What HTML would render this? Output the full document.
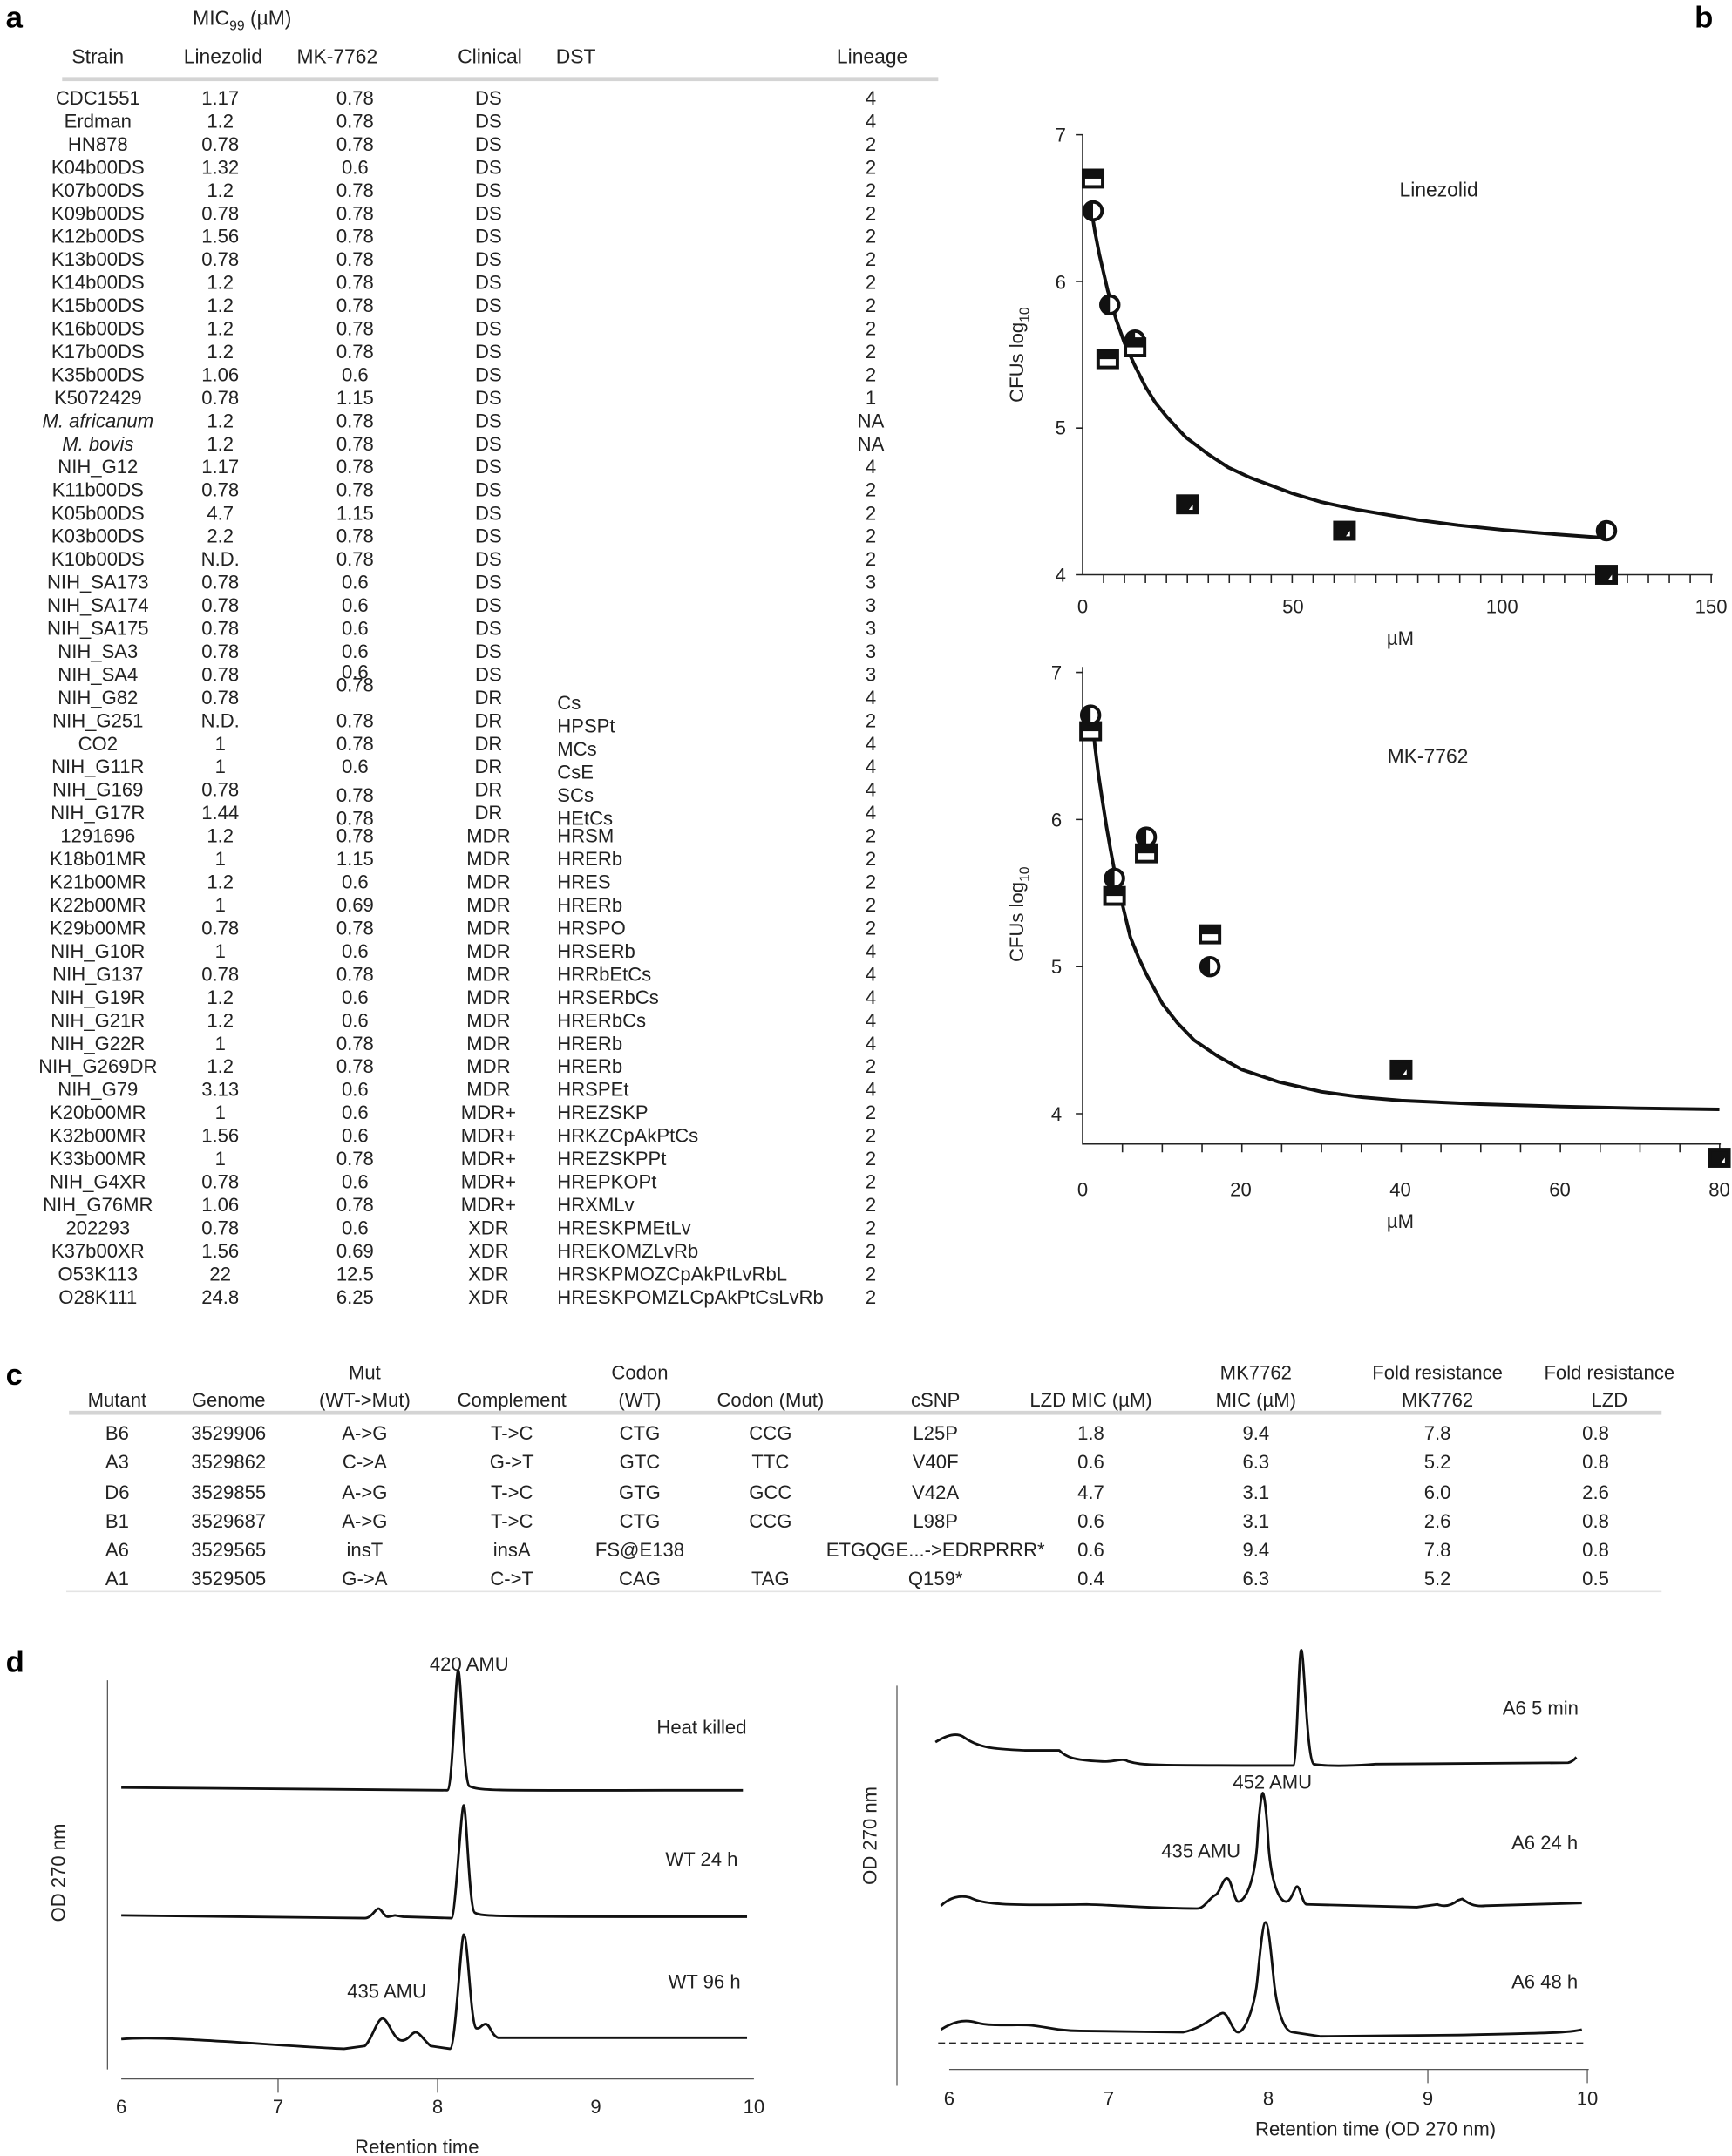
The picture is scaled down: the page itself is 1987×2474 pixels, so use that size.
<!DOCTYPE html>
<html><head><meta charset="utf-8"><style>
html,body{margin:0;padding:0;background:#fff}
svg{display:block}
text{font-family:"Liberation Sans",sans-serif;fill:#222}
.t{font-size:14px}
.h{font-size:14.5px}
.m{text-anchor:middle}
.b{font-weight:bold;font-size:22px;fill:#000}
</style></head><body>
<svg xmlns="http://www.w3.org/2000/svg" xmlns:xlink="http://www.w3.org/1999/xlink" width="1987" height="2474" viewBox="0 0 1259 1568">
<defs>
<g id="sq"><rect x="-7" y="-6" width="14" height="12" fill="#fff" stroke="#111" stroke-width="2.5"/><rect x="-7" y="-6" width="14" height="6" fill="#111"/></g>
<g id="ci"><circle r="6.5" fill="#fff" stroke="#111" stroke-width="2.5"/><path d="M0,-6.5 A6.5,6.5 0 0 0 0,6.5 Z" fill="#111"/></g>
<g id="fs"><rect x="-7" y="-6" width="14" height="12" fill="#111" stroke="#111" stroke-width="2.5"/><path d="M1,4 L4,4 L4,0 Z" fill="#fff"/></g>
</defs>

<!-- Panel a -->
<text x="4" y="20" class="b">a</text>
<text x="140" y="18" class="h">MIC<tspan font-size="10" dy="4">99</tspan><tspan dy="-4"> (µM)</tspan></text>
<text x="71" y="46" class="h m">Strain</text><text x="162" y="46" class="h m">Linezolid</text><text x="245" y="46" class="h m">MK-7762</text><text x="356" y="46" class="h m">Clinical</text><text x="404" y="46" class="h">DST</text><text x="634" y="46" class="h m">Lineage</text>
<rect x="45" y="56" width="637" height="3" fill="#d4d4d4"/>
<g class="t">
<g transform="translate(0,76)"><text x="71" class="t m">CDC1551</text><text x="160" class="t m">1.17</text><text x="258" class="t m">0.78</text><text x="355" class="t m">DS</text><text x="633" class="t m">4</text></g>
<g transform="translate(0,92.8)"><text x="71" class="t m">Erdman</text><text x="160" class="t m">1.2</text><text x="258" class="t m">0.78</text><text x="355" class="t m">DS</text><text x="633" class="t m">4</text></g>
<g transform="translate(0,109.5)"><text x="71" class="t m">HN878</text><text x="160" class="t m">0.78</text><text x="258" class="t m">0.78</text><text x="355" class="t m">DS</text><text x="633" class="t m">2</text></g>
<g transform="translate(0,126.3)"><text x="71" class="t m">K04b00DS</text><text x="160" class="t m">1.32</text><text x="258" class="t m">0.6</text><text x="355" class="t m">DS</text><text x="633" class="t m">2</text></g>
<g transform="translate(0,143.1)"><text x="71" class="t m">K07b00DS</text><text x="160" class="t m">1.2</text><text x="258" class="t m">0.78</text><text x="355" class="t m">DS</text><text x="633" class="t m">2</text></g>
<g transform="translate(0,159.9)"><text x="71" class="t m">K09b00DS</text><text x="160" class="t m">0.78</text><text x="258" class="t m">0.78</text><text x="355" class="t m">DS</text><text x="633" class="t m">2</text></g>
<g transform="translate(0,176.6)"><text x="71" class="t m">K12b00DS</text><text x="160" class="t m">1.56</text><text x="258" class="t m">0.78</text><text x="355" class="t m">DS</text><text x="633" class="t m">2</text></g>
<g transform="translate(0,193.4)"><text x="71" class="t m">K13b00DS</text><text x="160" class="t m">0.78</text><text x="258" class="t m">0.78</text><text x="355" class="t m">DS</text><text x="633" class="t m">2</text></g>
<g transform="translate(0,210.2)"><text x="71" class="t m">K14b00DS</text><text x="160" class="t m">1.2</text><text x="258" class="t m">0.78</text><text x="355" class="t m">DS</text><text x="633" class="t m">2</text></g>
<g transform="translate(0,226.9)"><text x="71" class="t m">K15b00DS</text><text x="160" class="t m">1.2</text><text x="258" class="t m">0.78</text><text x="355" class="t m">DS</text><text x="633" class="t m">2</text></g>
<g transform="translate(0,243.7)"><text x="71" class="t m">K16b00DS</text><text x="160" class="t m">1.2</text><text x="258" class="t m">0.78</text><text x="355" class="t m">DS</text><text x="633" class="t m">2</text></g>
<g transform="translate(0,260.5)"><text x="71" class="t m">K17b00DS</text><text x="160" class="t m">1.2</text><text x="258" class="t m">0.78</text><text x="355" class="t m">DS</text><text x="633" class="t m">2</text></g>
<g transform="translate(0,277.2)"><text x="71" class="t m">K35b00DS</text><text x="160" class="t m">1.06</text><text x="258" class="t m">0.6</text><text x="355" class="t m">DS</text><text x="633" class="t m">2</text></g>
<g transform="translate(0,294)"><text x="71" class="t m">K5072429</text><text x="160" class="t m">0.78</text><text x="258" class="t m">1.15</text><text x="355" class="t m">DS</text><text x="633" class="t m">1</text></g>
<g transform="translate(0,310.8)"><text x="71" class="t m" font-style="italic">M. africanum</text><text x="160" class="t m">1.2</text><text x="258" class="t m">0.78</text><text x="355" class="t m">DS</text><text x="633" class="t m">NA</text></g>
<g transform="translate(0,327.6)"><text x="71" class="t m" font-style="italic">M. bovis</text><text x="160" class="t m">1.2</text><text x="258" class="t m">0.78</text><text x="355" class="t m">DS</text><text x="633" class="t m">NA</text></g>
<g transform="translate(0,344.3)"><text x="71" class="t m">NIH_G12</text><text x="160" class="t m">1.17</text><text x="258" class="t m">0.78</text><text x="355" class="t m">DS</text><text x="633" class="t m">4</text></g>
<g transform="translate(0,361.1)"><text x="71" class="t m">K11b00DS</text><text x="160" class="t m">0.78</text><text x="258" class="t m">0.78</text><text x="355" class="t m">DS</text><text x="633" class="t m">2</text></g>
<g transform="translate(0,377.9)"><text x="71" class="t m">K05b00DS</text><text x="160" class="t m">4.7</text><text x="258" class="t m">1.15</text><text x="355" class="t m">DS</text><text x="633" class="t m">2</text></g>
<g transform="translate(0,394.6)"><text x="71" class="t m">K03b00DS</text><text x="160" class="t m">2.2</text><text x="258" class="t m">0.78</text><text x="355" class="t m">DS</text><text x="633" class="t m">2</text></g>
<g transform="translate(0,411.4)"><text x="71" class="t m">K10b00DS</text><text x="160" class="t m">N.D.</text><text x="258" class="t m">0.78</text><text x="355" class="t m">DS</text><text x="633" class="t m">2</text></g>
<g transform="translate(0,428.2)"><text x="71" class="t m">NIH_SA173</text><text x="160" class="t m">0.78</text><text x="258" class="t m">0.6</text><text x="355" class="t m">DS</text><text x="633" class="t m">3</text></g>
<g transform="translate(0,444.9)"><text x="71" class="t m">NIH_SA174</text><text x="160" class="t m">0.78</text><text x="258" class="t m">0.6</text><text x="355" class="t m">DS</text><text x="633" class="t m">3</text></g>
<g transform="translate(0,461.7)"><text x="71" class="t m">NIH_SA175</text><text x="160" class="t m">0.78</text><text x="258" class="t m">0.6</text><text x="355" class="t m">DS</text><text x="633" class="t m">3</text></g>
<g transform="translate(0,478.5)"><text x="71" class="t m">NIH_SA3</text><text x="160" class="t m">0.78</text><text x="258" class="t m">0.6</text><text x="355" class="t m">DS</text><text x="633" class="t m">3</text></g>
<g transform="translate(0,495.3)"><text x="71" class="t m">NIH_SA4</text><text x="160" class="t m">0.78</text><text x="258" y="-2" class="t m">0.6</text><text x="355" class="t m">DS</text><text x="633" class="t m">3</text></g>
<g transform="translate(0,512)"><text x="71" class="t m">NIH_G82</text><text x="160" class="t m">0.78</text><text x="258" y="-9" class="t m">0.78</text><text x="355" class="t m">DR</text><text x="405" y="4" class="t">Cs</text><text x="633" class="t m">4</text></g>
<g transform="translate(0,528.8)"><text x="71" class="t m">NIH_G251</text><text x="160" class="t m">N.D.</text><text x="258" class="t m">0.78</text><text x="355" class="t m">DR</text><text x="405" y="4" class="t">HPSPt</text><text x="633" class="t m">2</text></g>
<g transform="translate(0,545.6)"><text x="71" class="t m">CO2</text><text x="160" class="t m">1</text><text x="258" class="t m">0.78</text><text x="355" class="t m">DR</text><text x="405" y="4" class="t">MCs</text><text x="633" class="t m">4</text></g>
<g transform="translate(0,562.3)"><text x="71" class="t m">NIH_G11R</text><text x="160" class="t m">1</text><text x="258" class="t m">0.6</text><text x="355" class="t m">DR</text><text x="405" y="4" class="t">CsE</text><text x="633" class="t m">4</text></g>
<g transform="translate(0,579.1)"><text x="71" class="t m">NIH_G169</text><text x="160" class="t m">0.78</text><text x="258" y="4" class="t m">0.78</text><text x="355" class="t m">DR</text><text x="405" y="4" class="t">SCs</text><text x="633" class="t m">4</text></g>
<g transform="translate(0,595.9)"><text x="71" class="t m">NIH_G17R</text><text x="160" class="t m">1.44</text><text x="258" y="4" class="t m">0.78</text><text x="355" class="t m">DR</text><text x="405" y="4" class="t">HEtCs</text><text x="633" class="t m">4</text></g>
<g transform="translate(0,612.6)"><text x="71" class="t m">1291696</text><text x="160" class="t m">1.2</text><text x="258" class="t m">0.78</text><text x="355" class="t m">MDR</text><text x="405" class="t">HRSM</text><text x="633" class="t m">2</text></g>
<g transform="translate(0,629.4)"><text x="71" class="t m">K18b01MR</text><text x="160" class="t m">1</text><text x="258" class="t m">1.15</text><text x="355" class="t m">MDR</text><text x="405" class="t">HRERb</text><text x="633" class="t m">2</text></g>
<g transform="translate(0,646.2)"><text x="71" class="t m">K21b00MR</text><text x="160" class="t m">1.2</text><text x="258" class="t m">0.6</text><text x="355" class="t m">MDR</text><text x="405" class="t">HRES</text><text x="633" class="t m">2</text></g>
<g transform="translate(0,663)"><text x="71" class="t m">K22b00MR</text><text x="160" class="t m">1</text><text x="258" class="t m">0.69</text><text x="355" class="t m">MDR</text><text x="405" class="t">HRERb</text><text x="633" class="t m">2</text></g>
<g transform="translate(0,679.7)"><text x="71" class="t m">K29b00MR</text><text x="160" class="t m">0.78</text><text x="258" class="t m">0.78</text><text x="355" class="t m">MDR</text><text x="405" class="t">HRSPO</text><text x="633" class="t m">2</text></g>
<g transform="translate(0,696.5)"><text x="71" class="t m">NIH_G10R</text><text x="160" class="t m">1</text><text x="258" class="t m">0.6</text><text x="355" class="t m">MDR</text><text x="405" class="t">HRSERb</text><text x="633" class="t m">4</text></g>
<g transform="translate(0,713.3)"><text x="71" class="t m">NIH_G137</text><text x="160" class="t m">0.78</text><text x="258" class="t m">0.78</text><text x="355" class="t m">MDR</text><text x="405" class="t">HRRbEtCs</text><text x="633" class="t m">4</text></g>
<g transform="translate(0,730)"><text x="71" class="t m">NIH_G19R</text><text x="160" class="t m">1.2</text><text x="258" class="t m">0.6</text><text x="355" class="t m">MDR</text><text x="405" class="t">HRSERbCs</text><text x="633" class="t m">4</text></g>
<g transform="translate(0,746.8)"><text x="71" class="t m">NIH_G21R</text><text x="160" class="t m">1.2</text><text x="258" class="t m">0.6</text><text x="355" class="t m">MDR</text><text x="405" class="t">HRERbCs</text><text x="633" class="t m">4</text></g>
<g transform="translate(0,763.6)"><text x="71" class="t m">NIH_G22R</text><text x="160" class="t m">1</text><text x="258" class="t m">0.78</text><text x="355" class="t m">MDR</text><text x="405" class="t">HRERb</text><text x="633" class="t m">4</text></g>
<g transform="translate(0,780.3)"><text x="71" class="t m">NIH_G269DR</text><text x="160" class="t m">1.2</text><text x="258" class="t m">0.78</text><text x="355" class="t m">MDR</text><text x="405" class="t">HRERb</text><text x="633" class="t m">2</text></g>
<g transform="translate(0,797.1)"><text x="71" class="t m">NIH_G79</text><text x="160" class="t m">3.13</text><text x="258" class="t m">0.6</text><text x="355" class="t m">MDR</text><text x="405" class="t">HRSPEt</text><text x="633" class="t m">4</text></g>
<g transform="translate(0,813.9)"><text x="71" class="t m">K20b00MR</text><text x="160" class="t m">1</text><text x="258" class="t m">0.6</text><text x="355" class="t m">MDR+</text><text x="405" class="t">HREZSKP</text><text x="633" class="t m">2</text></g>
<g transform="translate(0,830.7)"><text x="71" class="t m">K32b00MR</text><text x="160" class="t m">1.56</text><text x="258" class="t m">0.6</text><text x="355" class="t m">MDR+</text><text x="405" class="t">HRKZCpAkPtCs</text><text x="633" class="t m">2</text></g>
<g transform="translate(0,847.4)"><text x="71" class="t m">K33b00MR</text><text x="160" class="t m">1</text><text x="258" class="t m">0.78</text><text x="355" class="t m">MDR+</text><text x="405" class="t">HREZSKPPt</text><text x="633" class="t m">2</text></g>
<g transform="translate(0,864.2)"><text x="71" class="t m">NIH_G4XR</text><text x="160" class="t m">0.78</text><text x="258" class="t m">0.6</text><text x="355" class="t m">MDR+</text><text x="405" class="t">HREPKOPt</text><text x="633" class="t m">2</text></g>
<g transform="translate(0,881)"><text x="71" class="t m">NIH_G76MR</text><text x="160" class="t m">1.06</text><text x="258" class="t m">0.78</text><text x="355" class="t m">MDR+</text><text x="405" class="t">HRXMLv</text><text x="633" class="t m">2</text></g>
<g transform="translate(0,897.7)"><text x="71" class="t m">202293</text><text x="160" class="t m">0.78</text><text x="258" class="t m">0.6</text><text x="355" class="t m">XDR</text><text x="405" class="t">HRESKPMEtLv</text><text x="633" class="t m">2</text></g>
<g transform="translate(0,914.5)"><text x="71" class="t m">K37b00XR</text><text x="160" class="t m">1.56</text><text x="258" class="t m">0.69</text><text x="355" class="t m">XDR</text><text x="405" class="t">HREKOMZLvRb</text><text x="633" class="t m">2</text></g>
<g transform="translate(0,931.3)"><text x="71" class="t m">O53K113</text><text x="160" class="t m">22</text><text x="258" class="t m">12.5</text><text x="355" class="t m">XDR</text><text x="405" class="t">HRSKPMOZCpAkPtLvRbL</text><text x="633" class="t m">2</text></g>
<g transform="translate(0,948)"><text x="71" class="t m">O28K111</text><text x="160" class="t m">24.8</text><text x="258" class="t m">6.25</text><text x="355" class="t m">XDR</text><text x="405" class="t">HRESKPOMZLCpAkPtCsLvRb</text><text x="633" class="t m">2</text></g>
</g>

<!-- Panel b -->
<text x="1232" y="20" class="b">b</text>
<g stroke="#222" stroke-width="1" fill="none">
<path d="M787,98 V418 H1245 M787,98 h-5 M787,204.7 h-5 M787,311.3 h-5 M787,418 h-5"/>
<path d="M787,421 H1246" stroke-width="6" stroke-dasharray="1 14.235" stroke-dashoffset="0.5"/>
<path d="M787,485 V832 H1251 M787,489 h-5 M787,596 h-5 M787,703 h-5 M787,810 h-5"/>
<path d="M787,835 H1252" stroke-width="6" stroke-dasharray="1 27.95" stroke-dashoffset="0.5"/>
</g>
<text x="1046" y="143" class="h m">Linezolid</text>
<text x="1038" y="555" class="h m">MK-7762</text>
<text transform="translate(744,258) rotate(-90)" class="t m">CFUs log<tspan font-size="10" dy="4">10</tspan></text>
<text transform="translate(744,665) rotate(-90)" class="t m">CFUs log<tspan font-size="10" dy="4">10</tspan></text>
<text x="771" y="103" class="t m">7</text><text x="771" y="210" class="t m">6</text><text x="771" y="316" class="t m">5</text><text x="771" y="423" class="t m">4</text>
<text x="787" y="446" class="t m">0</text><text x="940" y="446" class="t m">50</text><text x="1092" y="446" class="t m">100</text><text x="1244" y="446" class="t m">150</text>
<text x="1018" y="469" class="t m">µM</text>
<text x="768" y="494" class="t m">7</text><text x="768" y="601" class="t m">6</text><text x="768" y="708" class="t m">5</text><text x="768" y="815" class="t m">4</text>
<text x="787" y="870" class="t m">0</text><text x="902" y="870" class="t m">20</text><text x="1018" y="870" class="t m">40</text><text x="1134" y="870" class="t m">60</text><text x="1250" y="870" class="t m">80</text>
<text x="1018" y="893" class="t m">µM</text>
<g fill="none" stroke="#111" stroke-width="2.5" stroke-linejoin="round">
<path d="M793.1,151 L796.1,169.3 L799.2,185.2 L805.3,211.5 L811.4,232.4 L817.5,249.6 L825,266 L832.7,281.2 L840,293 L847.9,302.8 L862,318 L878.4,330.4 L893,340 L908.9,347.4 L939.4,358.8 L960,365 L985.1,370.4 L1030.8,378.2 L1060,382 L1091.7,385.3 L1130,388.5 L1167.9,391.3"/>
<path d="M793.8,521.1 L796,543 L798.6,563.9 L801.5,583 L804.4,601.4 L807.3,618 L810.2,633.5 L816,658 L821.7,681.6 L827.5,696 L833.3,708.4 L844.9,729.8 L856,744 L868.1,756.5 L885,768 L902.8,777.9 L930,787 L960.7,794 L990,798 L1018.6,800.4 L1076,803 L1134.4,804.7 L1190,806 L1250,806.8"/>
</g>
<use xlink:href="#sq" x="794.6" y="129.9"/><use xlink:href="#ci" x="794.6" y="153.4"/>
<use xlink:href="#ci" x="806.8" y="221.7"/><use xlink:href="#sq" x="805.3" y="261.2"/>
<use xlink:href="#ci" x="825.1" y="247.3"/><use xlink:href="#sq" x="825.1" y="252.6"/>
<use xlink:href="#fs" x="863.2" y="366.8"/><use xlink:href="#fs" x="977.4" y="386"/>
<use xlink:href="#ci" x="1167.9" y="386"/><use xlink:href="#fs" x="1167.9" y="418"/>
<use xlink:href="#sq" x="792.8" y="531.8"/><use xlink:href="#ci" x="792.8" y="520.1"/>
<use xlink:href="#ci" x="810.2" y="638.8"/><use xlink:href="#sq" x="810.2" y="651.6"/>
<use xlink:href="#ci" x="833.3" y="608.8"/><use xlink:href="#sq" x="833.3" y="620.6"/>
<use xlink:href="#sq" x="879.6" y="679.5"/><use xlink:href="#ci" x="879.6" y="703"/>
<use xlink:href="#fs" x="1018.6" y="777.9"/><use xlink:href="#fs" x="1250" y="842"/>

<!-- Panel c -->
<text x="4" y="1007" class="b">c</text>
<text x="265" y="1003" class="t m">Mut</text><text x="465" y="1003" class="t m">Codon</text><text x="913" y="1003" class="t m">MK7762</text><text x="1045" y="1003" class="t m">Fold resistance</text><text x="1170" y="1003" class="t m">Fold resistance</text>
<text x="85" y="1023" class="t m">Mutant</text><text x="166" y="1023" class="t m">Genome</text><text x="265" y="1023" class="t m">(WT-&gt;Mut)</text><text x="372" y="1023" class="t m">Complement</text><text x="465" y="1023" class="t m">(WT)</text><text x="560" y="1023" class="t m">Codon (Mut)</text><text x="680" y="1023" class="t m">cSNP</text><text x="793" y="1023" class="t m">LZD MIC (µM)</text><text x="913" y="1023" class="t m">MIC (µM)</text><text x="1045" y="1023" class="t m">MK7762</text><text x="1170" y="1023" class="t m">LZD</text>
<rect x="50" y="1026" width="1158" height="3" fill="#d4d4d4"/>
<rect x="48" y="1157" width="1160" height="1" fill="#e4e4e4"/>
<g transform="translate(0,1047)"><text x="85" class="t m">B6</text><text x="166" class="t m">3529906</text><text x="265" class="t m">A-&gt;G</text><text x="372" class="t m">T-&gt;C</text><text x="465" class="t m">CTG</text><text x="560" class="t m">CCG</text><text x="680" class="t m">L25P</text><text x="793" class="t m">1.8</text><text x="913" class="t m">9.4</text><text x="1045" class="t m">7.8</text><text x="1160" class="t m">0.8</text></g>
<g transform="translate(0,1068)"><text x="85" class="t m">A3</text><text x="166" class="t m">3529862</text><text x="265" class="t m">C-&gt;A</text><text x="372" class="t m">G-&gt;T</text><text x="465" class="t m">GTC</text><text x="560" class="t m">TTC</text><text x="680" class="t m">V40F</text><text x="793" class="t m">0.6</text><text x="913" class="t m">6.3</text><text x="1045" class="t m">5.2</text><text x="1160" class="t m">0.8</text></g>
<g transform="translate(0,1090)"><text x="85" class="t m">D6</text><text x="166" class="t m">3529855</text><text x="265" class="t m">A-&gt;G</text><text x="372" class="t m">T-&gt;C</text><text x="465" class="t m">GTG</text><text x="560" class="t m">GCC</text><text x="680" class="t m">V42A</text><text x="793" class="t m">4.7</text><text x="913" class="t m">3.1</text><text x="1045" class="t m">6.0</text><text x="1160" class="t m">2.6</text></g>
<g transform="translate(0,1111)"><text x="85" class="t m">B1</text><text x="166" class="t m">3529687</text><text x="265" class="t m">A-&gt;G</text><text x="372" class="t m">T-&gt;C</text><text x="465" class="t m">CTG</text><text x="560" class="t m">CCG</text><text x="680" class="t m">L98P</text><text x="793" class="t m">0.6</text><text x="913" class="t m">3.1</text><text x="1045" class="t m">2.6</text><text x="1160" class="t m">0.8</text></g>
<g transform="translate(0,1132)"><text x="85" class="t m">A6</text><text x="166" class="t m">3529565</text><text x="265" class="t m">insT</text><text x="372" class="t m">insA</text><text x="465" class="t m">FS@E138</text><text x="680" class="t m">ETGQGE...-&gt;EDRPRRR*</text><text x="793" class="t m">0.6</text><text x="913" class="t m">9.4</text><text x="1045" class="t m">7.8</text><text x="1160" class="t m">0.8</text></g>
<g transform="translate(0,1153)"><text x="85" class="t m">A1</text><text x="166" class="t m">3529505</text><text x="265" class="t m">G-&gt;A</text><text x="372" class="t m">C-&gt;T</text><text x="465" class="t m">CAG</text><text x="560" class="t m">TAG</text><text x="680" class="t m">Q159*</text><text x="793" class="t m">0.4</text><text x="913" class="t m">6.3</text><text x="1045" class="t m">5.2</text><text x="1160" class="t m">0.5</text></g>

<!-- Panel d -->
<text x="4" y="1216" class="b">d</text>
<g stroke="#555" stroke-width="0.8" fill="none">
<path d="M78,1222 V1505"/><path d="M652,1226 V1517"/>
<path d="M88,1512 H548 M202,1512 v10 M318,1512 v10"/>
<path d="M690,1505 H1155 M1038,1505 v10 M1154,1505 v10"/>
</g>
<text x="88" y="1537" class="t m">6</text><text x="202" y="1537" class="t m">7</text><text x="318" y="1537" class="t m">8</text><text x="433" y="1537" class="t m">9</text><text x="548" y="1537" class="t m">10</text>
<text x="303" y="1566" class="t m">Retention time</text>
<text x="690" y="1531" class="t m">6</text><text x="806" y="1531" class="t m">7</text><text x="922" y="1531" class="t m">8</text><text x="1038" y="1531" class="t m">9</text><text x="1154" y="1531" class="t m">10</text>
<text x="1000" y="1553" class="t m">Retention time (OD 270 nm)</text>
<text transform="translate(47,1362) rotate(-90)" class="t m">OD 270 nm</text>
<text transform="translate(637,1335) rotate(-90)" class="t m">OD 270 nm</text>
<text x="341" y="1215" class="t m">420 AMU</text><text x="510" y="1261" class="t m">Heat killed</text>
<text x="510" y="1357" class="t m">WT 24 h</text>
<text x="281" y="1453" class="t m">435 AMU</text><text x="512" y="1446" class="t m">WT 96 h</text>
<text x="1120" y="1247" class="t m">A6 5 min</text>
<text x="925" y="1301" class="t m">452 AMU</text><text x="873" y="1351" class="t m">435 AMU</text><text x="1123" y="1345" class="t m">A6 24 h</text>
<text x="1123" y="1446" class="t m">A6 48 h</text>
<path d="M682,1486 H1152" stroke="#222" stroke-width="1.3" stroke-dasharray="5,3" fill="none"/>
<g fill="none" stroke="#111" stroke-width="1.8" stroke-linejoin="round">
<path d="M88,1300 L325,1302 C329,1302 331,1215 333,1215 C335,1215 337,1296 341,1299 C350,1303 360,1302 540,1302"/>
<path d="M88,1393 L265,1395 C270,1395 273,1388 275,1388 C277,1388 279,1394 282,1394 L287,1393 L293,1394 L328,1395 C331,1395 335,1313 337,1313 C339,1313 341,1389 345,1391 C350,1394 355,1394 543,1394"/>
<path d="M88,1483 C120,1480 200,1488 250,1490 L265,1488 C270,1484 274,1468 278,1468 C282,1468 286,1484 292,1484 C297,1484 299,1478 302,1478 C305,1478 308,1484 313,1488 L327,1490 C331,1490 335,1407 337,1407 C340,1407 342,1472 346,1475 C349,1476 350,1472 353,1472 C356,1472 357,1480 362,1482 L543,1482"/>
<path d="M680,1267 C688,1262 695,1260 700,1263 C712,1272 725,1272 745,1273 L770,1273 C775,1278 780,1280 800,1281 C810,1282 815,1278 820,1281 C830,1284 838,1284 940,1284 C943,1284 944,1200 946,1200 C948,1200 950,1280 955,1283 C965,1285 990,1284 1000,1283 L1140,1282 C1144,1281 1145,1279 1146,1278"/>
<path d="M684,1386 C690,1380 698,1378 705,1380 C715,1385 730,1386 790,1385 C820,1386 840,1388 870,1388 C876,1388 879,1380 884,1378 C887,1376 889,1366 892,1366 C895,1366 897,1382 900,1383 C905,1383 912,1370 914,1340 C915,1320 917,1304 918,1304 C919,1304 921,1320 922,1340 C924,1370 930,1383 935,1383 C939,1383 941,1372 943,1372 C945,1372 947,1385 950,1385 L1030,1387 L1045,1385 C1050,1387 1055,1386 1060,1382 L1063,1381 C1066,1383 1070,1387 1080,1386 L1150,1384"/>
<path d="M684,1476 C692,1471 700,1468 710,1471 C720,1474 740,1472 750,1473 C760,1474 770,1477 785,1477 L860,1478 C875,1475 885,1464 889,1464 C893,1464 896,1478 900,1478 C905,1478 912,1460 914,1440 C916,1420 918,1398 920,1398 C922,1398 924,1420 926,1440 C928,1460 933,1478 940,1478 L960,1481 L1060,1480 C1100,1479 1140,1479 1150,1476"/>
</g>
</svg>
</body></html>
